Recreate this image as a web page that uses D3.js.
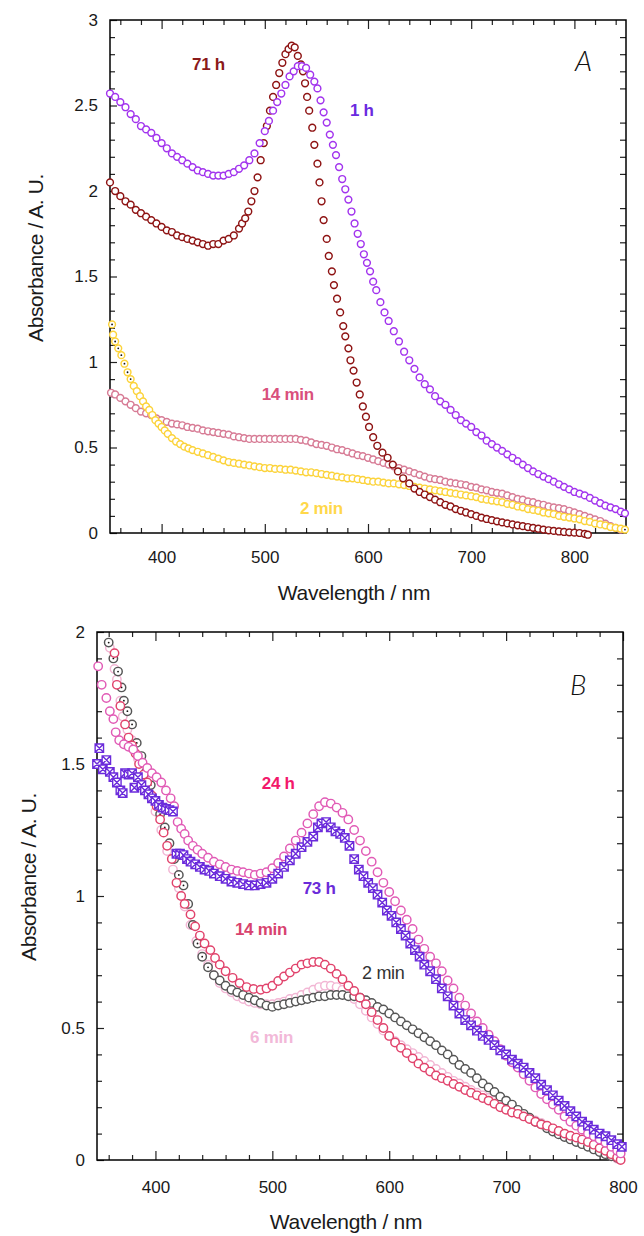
<!DOCTYPE html>
<html>
<head>
<meta charset="utf-8">
<script src="https://cdn.jsdelivr.net/npm/d3@7"></script>
<style>
  body { margin: 0; background: #fff; }
  svg text { font-family: "Liberation Sans", Arial, sans-serif; }
</style>
</head>
<body>
<svg id="chart" width="644" height="1236"></svg>
<script>
// ---------- panel A data: [wavelength nm, absorbance] ----------
const a71h = [[350,2.05],[355,2.00],[360,1.97],[365,1.94],[370,1.92],[375,1.89],[380,1.87],[385,1.85],[390,1.83],[395,1.81],[400,1.79],[405,1.77],[410,1.76],[415,1.74],[420,1.73],[425,1.72],[430,1.71],[435,1.70],[440,1.69],[445,1.68],[450,1.69],[455,1.69],[460,1.71],[465,1.72],[470,1.74],[475,1.78],[478,1.81],[481,1.84],[484,1.88],[487,1.94],[490,2.00],[493,2.08],[496,2.18],[499,2.28],[502,2.38],[505,2.47],[508,2.55],[511,2.62],[514,2.69],[517,2.75],[520,2.80],[523,2.83],[526,2.85],[529,2.84],[532,2.79],[535,2.74],[537,2.70],[539,2.63],[541,2.55],[543,2.47],[546,2.37],[548,2.27],[551,2.16],[553,2.05],[555,1.94],[557,1.83],[560,1.72],[562,1.62],[565,1.53],[567,1.45],[570,1.37],[573,1.29],[576,1.21],[578,1.15],[581,1.08],[583,1.01],[586,0.95],[589,0.88],[592,0.81],[595,0.74],[598,0.68],[601,0.62],[605,0.56],[609,0.51],[614,0.47],[619,0.44],[624,0.40],[629,0.36],[634,0.32],[640,0.29],[645,0.26],[650,0.24],[655,0.225],[660,0.21],[665,0.195],[670,0.18],[675,0.165],[680,0.155],[685,0.14],[690,0.13],[695,0.12],[700,0.11],[705,0.10],[710,0.09],[715,0.082],[720,0.075],[725,0.068],[730,0.062],[735,0.056],[740,0.05],[745,0.045],[750,0.04],[755,0.035],[760,0.03],[765,0.025],[770,0.02],[775,0.016],[780,0.012],[785,0.009],[790,0.006],[795,0.004],[800,0.002],[805,0],[810,-0.005],[813,-0.01]];

const a1h = [[350,2.57],[355,2.55],[360,2.52],[365,2.49],[370,2.45],[375,2.42],[380,2.38],[385,2.36],[390,2.34],[395,2.31],[400,2.28],[405,2.25],[410,2.22],[415,2.20],[420,2.18],[425,2.16],[430,2.14],[435,2.12],[440,2.11],[445,2.10],[450,2.09],[455,2.09],[460,2.09],[465,2.10],[470,2.11],[475,2.13],[480,2.15],[485,2.18],[490,2.22],[495,2.28],[500,2.35],[504,2.41],[508,2.47],[512,2.52],[516,2.57],[520,2.62],[524,2.67],[528,2.70],[532,2.73],[536,2.73],[540,2.72],[544,2.68],[548,2.64],[551,2.60],[554,2.53],[557,2.46],[560,2.40],[563,2.33],[566,2.27],[569,2.21],[572,2.14],[575,2.07],[578,2.01],[581,1.95],[584,1.88],[587,1.81],[590,1.75],[593,1.69],[596,1.63],[599,1.58],[602,1.53],[605,1.47],[608,1.42],[612,1.35],[616,1.29],[620,1.24],[625,1.18],[630,1.12],[635,1.06],[640,1.01],[645,0.96],[650,0.91],[655,0.87],[660,0.84],[665,0.80],[670,0.77],[675,0.75],[680,0.72],[685,0.69],[690,0.66],[695,0.64],[700,0.62],[705,0.59],[710,0.57],[715,0.54],[720,0.52],[725,0.50],[730,0.48],[735,0.46],[740,0.44],[745,0.42],[750,0.40],[755,0.38],[760,0.36],[765,0.345],[770,0.33],[775,0.315],[780,0.30],[785,0.285],[790,0.27],[795,0.255],[800,0.24],[805,0.23],[810,0.22],[815,0.205],[820,0.19],[825,0.175],[830,0.16],[835,0.15],[840,0.14],[845,0.125],[849,0.115]];

const a14min = [[351,0.82],[355,0.81],[360,0.79],[365,0.77],[370,0.75],[375,0.73],[380,0.71],[385,0.70],[390,0.69],[395,0.67],[400,0.66],[405,0.65],[410,0.64],[415,0.635],[420,0.63],[425,0.62],[430,0.615],[435,0.61],[440,0.60],[445,0.595],[450,0.59],[455,0.585],[460,0.58],[465,0.575],[470,0.565],[475,0.56],[480,0.555],[485,0.55],[490,0.55],[495,0.55],[500,0.55],[505,0.55],[510,0.55],[515,0.55],[520,0.55],[525,0.55],[530,0.55],[535,0.545],[540,0.54],[545,0.53],[550,0.52],[555,0.515],[560,0.51],[565,0.50],[570,0.49],[575,0.485],[580,0.475],[585,0.465],[590,0.455],[595,0.45],[600,0.44],[605,0.43],[610,0.42],[615,0.41],[620,0.40],[625,0.39],[630,0.38],[635,0.37],[640,0.36],[645,0.35],[650,0.34],[655,0.33],[660,0.32],[665,0.315],[670,0.31],[675,0.30],[680,0.295],[685,0.29],[690,0.285],[695,0.28],[700,0.27],[705,0.265],[710,0.255],[715,0.25],[720,0.24],[725,0.235],[730,0.23],[735,0.22],[740,0.21],[745,0.20],[750,0.195],[755,0.185],[760,0.18],[765,0.17],[770,0.165],[775,0.155],[780,0.15],[785,0.145],[790,0.14],[795,0.13],[800,0.12],[805,0.11],[810,0.10],[815,0.09],[820,0.08],[825,0.07],[830,0.055],[835,0.04],[840,0.03],[845,0.02]];

const a2min = [[352,1.22],[353,1.16],[355,1.12],[358,1.08],[361,1.04],[364,0.99],[367,0.94],[370,0.90],[373,0.86],[376,0.83],[379,0.80],[382,0.77],[385,0.74],[388,0.72],[391,0.69],[394,0.66],[397,0.64],[400,0.62],[403,0.60],[406,0.58],[410,0.555],[414,0.535],[418,0.52],[422,0.505],[426,0.495],[430,0.485],[435,0.475],[440,0.465],[445,0.455],[450,0.445],[455,0.435],[460,0.425],[465,0.415],[470,0.41],[475,0.405],[480,0.40],[485,0.395],[490,0.39],[495,0.385],[500,0.38],[505,0.38],[510,0.375],[515,0.375],[520,0.37],[525,0.37],[530,0.365],[535,0.36],[540,0.355],[545,0.355],[550,0.35],[555,0.345],[560,0.34],[565,0.335],[570,0.33],[575,0.325],[580,0.32],[585,0.32],[590,0.315],[595,0.31],[600,0.305],[605,0.30],[610,0.30],[615,0.295],[620,0.29],[625,0.29],[630,0.285],[635,0.28],[640,0.275],[645,0.27],[650,0.265],[655,0.26],[660,0.255],[665,0.25],[670,0.245],[675,0.24],[680,0.235],[685,0.23],[690,0.225],[695,0.22],[700,0.215],[705,0.21],[710,0.20],[715,0.195],[720,0.19],[725,0.185],[730,0.18],[735,0.17],[740,0.165],[745,0.155],[750,0.15],[755,0.14],[760,0.135],[765,0.13],[770,0.12],[775,0.115],[780,0.11],[785,0.10],[790,0.095],[795,0.09],[800,0.085],[805,0.08],[810,0.07],[815,0.065],[820,0.055],[825,0.05],[830,0.045],[835,0.035],[840,0.03],[845,0.025],[849,0.02]];

// ---------- panel B data ----------
const b2min = [[360,1.96],[364,1.90],[368,1.85],[371,1.79],[373,1.74],[376,1.70],[380,1.65],[384,1.58],[388,1.53],[392,1.47],[396,1.42],[400,1.36],[404,1.31],[408,1.26],[412,1.20],[416,1.14],[420,1.08],[424,1.04],[428,0.97],[432,0.89],[436,0.82],[440,0.77],[445,0.73],[450,0.70],[455,0.68],[460,0.66],[465,0.645],[470,0.635],[475,0.625],[480,0.615],[485,0.605],[490,0.595],[495,0.585],[500,0.58],[505,0.585],[510,0.59],[515,0.595],[520,0.60],[525,0.605],[530,0.61],[535,0.615],[540,0.62],[545,0.62],[550,0.625],[555,0.625],[560,0.625],[565,0.62],[570,0.62],[575,0.615],[580,0.605],[585,0.595],[590,0.58],[595,0.57],[600,0.555],[605,0.54],[610,0.525],[615,0.51],[620,0.495],[625,0.48],[630,0.465],[635,0.45],[640,0.435],[645,0.415],[650,0.40],[655,0.38],[660,0.36],[665,0.345],[670,0.33],[675,0.31],[680,0.29],[685,0.275],[690,0.258],[695,0.24],[700,0.225],[705,0.21],[710,0.19],[715,0.175],[720,0.16],[725,0.145],[730,0.135],[735,0.12],[740,0.108],[745,0.097],[750,0.087],[755,0.078],[760,0.068],[765,0.06],[770,0.05],[775,0.04],[780,0.03],[785,0.022],[790,0.014],[795,0.008]];

const b6min = [[361,1.94],[365,1.86],[367,1.82],[370,1.74],[372,1.68],[376,1.63],[380,1.59],[385,1.52],[390,1.45],[395,1.39],[400,1.32],[405,1.25],[410,1.17],[415,1.10],[420,1.03],[425,0.96],[430,0.89],[435,0.83],[440,0.78],[445,0.74],[450,0.70],[455,0.67],[460,0.65],[465,0.635],[470,0.62],[475,0.61],[480,0.60],[485,0.595],[490,0.59],[495,0.59],[500,0.59],[505,0.595],[510,0.60],[515,0.61],[520,0.615],[525,0.625],[530,0.635],[535,0.645],[540,0.655],[545,0.66],[550,0.66],[555,0.655],[560,0.645],[565,0.63],[570,0.61],[575,0.59],[580,0.565],[585,0.54],[590,0.515],[595,0.49],[600,0.47],[605,0.45],[610,0.435],[615,0.42],[620,0.405],[625,0.39],[630,0.375],[635,0.36],[640,0.345],[645,0.33],[650,0.315],[655,0.30],[660,0.29],[665,0.278],[670,0.265],[675,0.255],[680,0.245],[685,0.235],[690,0.225],[695,0.215],[700,0.205],[705,0.195],[710,0.185],[715,0.172],[720,0.16],[725,0.15],[730,0.14],[735,0.128],[740,0.115],[745,0.105],[750,0.095],[755,0.085],[760,0.075],[765,0.065],[770,0.055],[775,0.045],[780,0.035],[785,0.025],[790,0.015],[795,0.005]];

const b14min = [[365,1.92],[367,1.80],[370,1.72],[374,1.65],[377,1.60],[380,1.57],[383,1.54],[386,1.50],[390,1.46],[393,1.43],[397,1.38],[401,1.34],[404,1.29],[407,1.24],[410,1.19],[414,1.14],[418,1.05],[422,1.00],[425,0.97],[430,0.93],[434,0.885],[438,0.85],[442,0.82],[447,0.795],[451,0.765],[455,0.74],[460,0.715],[466,0.69],[472,0.67],[478,0.655],[484,0.648],[490,0.645],[495,0.65],[500,0.66],[505,0.678],[510,0.695],[515,0.71],[520,0.725],[525,0.74],[530,0.745],[535,0.75],[540,0.75],[545,0.74],[550,0.725],[555,0.705],[560,0.685],[565,0.66],[570,0.64],[575,0.615],[580,0.59],[585,0.56],[590,0.53],[595,0.50],[600,0.47],[605,0.445],[610,0.425],[615,0.405],[620,0.385],[625,0.365],[630,0.35],[635,0.335],[640,0.32],[645,0.31],[650,0.30],[655,0.288],[660,0.277],[665,0.265],[670,0.255],[675,0.245],[680,0.235],[685,0.225],[690,0.213],[695,0.20],[700,0.19],[705,0.18],[710,0.175],[715,0.165],[720,0.155],[725,0.145],[730,0.135],[735,0.13],[740,0.12],[745,0.11],[750,0.10],[755,0.092],[760,0.085],[765,0.078],[770,0.068],[775,0.058],[780,0.045],[785,0.035],[790,0.022],[795,0.01],[798,0.0]];

const b24h = [[351,1.87],[354,1.80],[358,1.75],[361,1.70],[364,1.67],[366,1.62],[369,1.59],[373,1.575],[377,1.565],[381,1.555],[385,1.53],[389,1.505],[393,1.485],[397,1.465],[401,1.45],[405,1.43],[409,1.40],[413,1.37],[416,1.34],[419,1.28],[422,1.255],[425,1.235],[428,1.21],[432,1.19],[436,1.175],[440,1.16],[445,1.145],[450,1.13],[455,1.12],[460,1.11],[465,1.10],[470,1.095],[475,1.09],[480,1.085],[485,1.08],[490,1.085],[495,1.09],[500,1.105],[505,1.125],[510,1.15],[515,1.18],[520,1.21],[525,1.24],[530,1.275],[535,1.31],[540,1.34],[545,1.355],[550,1.35],[555,1.335],[560,1.315],[565,1.29],[570,1.25],[575,1.21],[580,1.17],[585,1.13],[590,1.09],[595,1.05],[600,1.015],[605,0.98],[610,0.945],[615,0.91],[620,0.875],[625,0.835],[630,0.80],[635,0.77],[640,0.745],[645,0.715],[650,0.68],[655,0.65],[660,0.615],[665,0.585],[670,0.555],[675,0.525],[680,0.50],[685,0.475],[690,0.45],[695,0.42],[700,0.395],[705,0.37],[710,0.35],[715,0.325],[720,0.30],[725,0.275],[730,0.25],[735,0.23],[740,0.21],[745,0.19],[750,0.165],[755,0.145],[760,0.13],[765,0.115],[770,0.10],[775,0.09],[780,0.078],[785,0.065],[790,0.05],[795,0.035],[798,0.025]];

const b73h = [[350,1.50],[352,1.56],[355,1.48],[358,1.515],[361,1.47],[364,1.45],[367,1.43],[370,1.40],[372,1.39],[374,1.465],[377,1.46],[380,1.465],[382,1.41],[385,1.45],[388,1.42],[391,1.40],[394,1.385],[397,1.37],[400,1.36],[403,1.345],[406,1.335],[409,1.33],[412,1.325],[415,1.32],[418,1.16],[421,1.16],[424,1.155],[427,1.14],[430,1.13],[434,1.12],[438,1.11],[442,1.10],[446,1.095],[450,1.085],[455,1.075],[460,1.065],[465,1.055],[470,1.05],[475,1.045],[480,1.04],[485,1.04],[490,1.045],[495,1.05],[500,1.065],[505,1.085],[510,1.11],[515,1.135],[520,1.16],[525,1.185],[530,1.205],[535,1.225],[539,1.26],[542,1.275],[546,1.28],[550,1.26],[554,1.245],[558,1.235],[562,1.22],[566,1.19],[570,1.14],[574,1.10],[578,1.075],[582,1.05],[586,1.03],[590,1.005],[594,0.975],[598,0.945],[602,0.925],[606,0.90],[610,0.875],[614,0.85],[618,0.82],[622,0.795],[626,0.77],[630,0.74],[635,0.715],[640,0.685],[645,0.65],[650,0.62],[655,0.585],[660,0.555],[665,0.53],[670,0.51],[675,0.49],[680,0.47],[685,0.455],[690,0.435],[695,0.415],[700,0.40],[705,0.38],[710,0.365],[715,0.35],[720,0.33],[725,0.31],[730,0.285],[735,0.265],[740,0.245],[745,0.225],[750,0.205],[755,0.185],[760,0.165],[765,0.145],[770,0.13],[775,0.115],[780,0.10],[785,0.09],[790,0.075],[795,0.06],[799,0.05]];

// ticks
const xTicksA = [400, 500, 600, 700, 800];
const yTicksA = [0, 0.5, 1, 1.5, 2, 2.5, 3];
const xTicksB = [400, 500, 600, 700, 800];
const yTicksB = [0, 0.5, 1, 1.5, 2];

// labels: [text, wavelength, absorbance]
const labelsA = [['71 h', 429.5, 2.71], ['1 h', 582.6, 2.44], ['14 min', 497, 0.78], ['2 min', 534, 0.11]];
const labelsB = [['24 h', 491, 1.405], ['73 h', 526, 1.008], ['14 min', 468, 0.852], ['2 min', 576.7, 0.686], ['6 min', 481, 0.443]];

const svg = d3.select('#chart');

const panels = [
  {
    left: 110, right: 626, top: 20, bottom: 533,
    xDomain: [350, 850], yDomain: [0, 3],
    xTicks: xTicksA, yTicks: yTicksA, xPad: 18,
    r: 3.4,
    series: [
      { data: a14min, color: '#d77b95' },
      { data: a2min, color: '#fcd33a', dot: true },
      { data: a71h, color: '#8e1313' },
      { data: a1h, color: '#a234ee' }
    ],
    labels: labelsA,
    labelStyle: [['#8b1a1a', 'bold'], ['#6a2ae0', 'bold'], ['#d9507c', 'bold'], ['#ffd84a', 'bold']],
    letter: 'A', letterPos: [800.6, 2.70],
    xTitleY: 600, xTitleX: 354, yTitle: [43, 258]
  },
  {
    left: 97, right: 623, top: 632, bottom: 1160,
    xDomain: [350, 800], yDomain: [0, 2],
    xTicks: xTicksB, yTicks: yTicksB, xPad: 21,
    r: 4.2,
    series: [
      { data: b6min, color: '#f2b6d4' },
      { data: b2min, color: '#555555', dot: true },
      { data: b14min, color: '#e1436c' },
      { data: b24h, color: '#e15bb6' },
      { data: b73h, color: '#6b2bdb', square: true }
    ],
    labels: labelsB,
    labelStyle: [['#f3186b', 'bold'], ['#6a2bd9', 'bold'], ['#d8436f', 'bold'], ['#333333', 'normal'], ['#f2b8d8', 'bold']],
    letter: 'B', letterPos: [754.7, 1.76],
    xTitleY: 1229, xTitleX: 346, yTitle: [36, 877]
  }
];

function drawPanel(p) {
  const x = d3.scaleLinear().domain(p.xDomain).range([p.left, p.right]);
  const y = d3.scaleLinear().domain(p.yDomain).range([p.bottom, p.top]);
  const g = svg.append('g');

  const xMinor = d3.range(p.xDomain[0] + 10, p.xDomain[1], 20).filter(v => v % 100 !== 0);
  const yMinor = d3.range(1, Math.round(p.yDomain[1] * 10)).filter(i => i % 5 !== 0).map(i => i / 10);

  const axisG = (axis, tr) => {
    const a = g.append('g').attr('transform', tr).call(axis);
    a.select('.domain').remove();
    a.selectAll('line').attr('stroke', '#222').attr('stroke-width', 1.2);
    a.selectAll('text').attr('font-size', 17).attr('fill', '#1a1a1a')
      .style('font-family', '"Liberation Sans", Arial, sans-serif');
    return a;
  };

  // bottom
  axisG(d3.axisBottom(x).tickValues(p.xTicks).tickSizeInner(-9).tickSizeOuter(0)
    .tickPadding(p.xPad).tickFormat(d3.format('d')), `translate(0,${p.bottom})`);
  axisG(d3.axisBottom(x).tickValues(xMinor).tickSizeInner(-5).tickSizeOuter(0).tickFormat(''),
    `translate(0,${p.bottom})`);
  // top
  axisG(d3.axisTop(x).tickValues(p.xTicks).tickSizeInner(-9).tickSizeOuter(0).tickFormat(''),
    `translate(0,${p.top})`);
  axisG(d3.axisTop(x).tickValues(xMinor).tickSizeInner(-5).tickSizeOuter(0).tickFormat(''),
    `translate(0,${p.top})`);
  // left
  axisG(d3.axisLeft(y).tickValues(p.yTicks).tickSizeInner(-7).tickSizeOuter(0)
    .tickPadding(12).tickFormat(d => String(d)), `translate(${p.left},0)`);
  axisG(d3.axisLeft(y).tickValues(yMinor).tickSizeInner(-5).tickSizeOuter(0).tickFormat(''),
    `translate(${p.left},0)`);
  // right (minor only)
  axisG(d3.axisRight(y).tickValues(yMinor).tickSizeInner(-6).tickSizeOuter(0).tickFormat(''),
    `translate(${p.right},0)`);

  // frame
  g.append('rect')
    .attr('x', p.left).attr('y', p.top)
    .attr('width', p.right - p.left).attr('height', p.bottom - p.top)
    .attr('fill', 'none').attr('stroke', '#000').attr('stroke-width', 1.5);

  // markers
  const r = p.r;
  p.series.forEach(s => {
    const sg = g.append('g');
    s.data.forEach((d, i) => {
      const cx = x(d[0]), cy = y(d[1]);
      if (s.square) {
        const h = r;
        sg.append('path')
          .attr('d', `M${cx - h},${cy - h}h${2 * h}v${2 * h}h${-2 * h}Z M${cx - h},${cy - h}L${cx + h},${cy + h} M${cx + h},${cy - h}L${cx - h},${cy + h}`)
          .attr('fill', '#fff').attr('stroke', s.color).attr('stroke-width', 1.4);
      } else {
        sg.append('circle')
          .attr('cx', cx).attr('cy', cy).attr('r', r)
          .attr('fill', '#fff').attr('stroke', s.color).attr('stroke-width', 1.45);
      }
      if (s.dot) {
        const nx = s.data[i + 1];
        const dist = nx ? Math.hypot(x(nx[0]) - cx, y(nx[1]) - cy) : 99;
        if (dist > 2.2 * r) {
          sg.append('circle').attr('cx', cx).attr('cy', cy).attr('r', 0.9).attr('fill', '#111');
        }
      }
    });
  });

  // series labels
  p.labels.forEach((l, i) => {
    g.append('text')
      .attr('x', x(l[1])).attr('y', y(l[2]))
      .attr('font-size', l[0] === '2 min' && p.letter === 'B' ? 18 : 17)
      .attr('font-weight', p.labelStyle[i][1])
      .attr('letter-spacing', -0.3)
      .attr('fill', p.labelStyle[i][0])
      .text(l[0]);
  });

  // panel letter
  g.append('text')
    .attr('x', x(p.letterPos[0])).attr('y', y(p.letterPos[1]))
    .attr('font-size', 28).attr('font-style', 'italic').attr('font-weight', 300)
    .style('font-family', 'Lato, "Open Sans", sans-serif')
    .attr('fill', '#111')
    .text(p.letter);

  // axis titles
  g.append('text')
    .attr('x', p.xTitleX).attr('y', p.xTitleY)
    .attr('text-anchor', 'middle').attr('font-size', 21).attr('letter-spacing', -0.3)
    .attr('fill', '#1a1a1a')
    .text('Wavelength / nm');
  g.append('text')
    .attr('transform', `translate(${p.yTitle[0]},${p.yTitle[1]}) rotate(-90)`)
    .attr('text-anchor', 'middle').attr('font-size', 21).attr('letter-spacing', -0.4)
    .attr('fill', '#1a1a1a')
    .text('Absorbance / A. U.');
}

panels.forEach(drawPanel);
</script>
</body>
</html>
